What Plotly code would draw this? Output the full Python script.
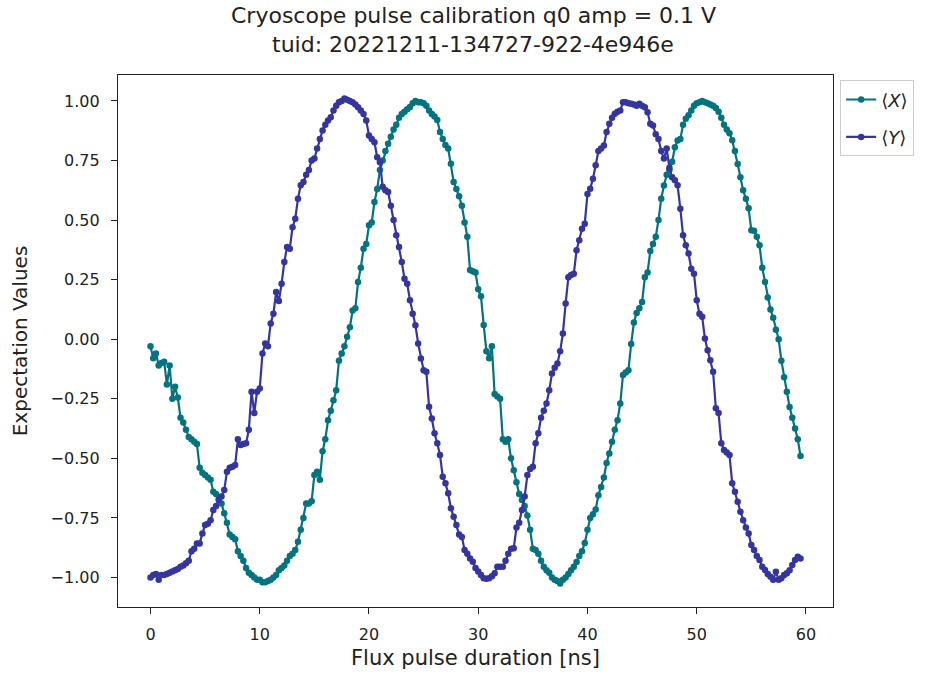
import plotly.graph_objects as go

# Cryoscope expectation values, one sample every 0.25 ns (rows of 2 ns)
expect_x = [
    -0.03, -0.08, -0.06, -0.11, -0.10, -0.095, -0.19, -0.11,
    -0.25, -0.20, -0.245, -0.33, -0.35, -0.38, -0.41, -0.42,
    -0.43, -0.44, -0.54, -0.56, -0.57, -0.58, -0.59, -0.64,
    -0.65, -0.67, -0.69, -0.73, -0.77, -0.82, -0.83, -0.84,
    -0.89, -0.91, -0.93, -0.96, -0.98, -0.99, -1.00, -1.01,
    -1.01, -1.02, -1.02, -1.015, -1.01, -1.00, -0.99, -0.97,
    -0.96, -0.95, -0.93, -0.91, -0.90, -0.885, -0.85, -0.80,
    -0.75, -0.69, -0.69, -0.68, -0.57, -0.556, -0.59, -0.47,
    -0.42, -0.34, -0.30, -0.256, -0.214, -0.09, -0.06, -0.03,
    0.01, 0.05, 0.12, 0.13, 0.24, 0.30, 0.38, 0.40,
    0.478, 0.49, 0.576, 0.63, 0.71, 0.75, 0.79, 0.82,
    0.85, 0.88, 0.90, 0.93, 0.945, 0.955, 0.965, 0.975,
    0.99, 1.0, 0.995, 0.995, 0.99, 0.98, 0.96, 0.945,
    0.935, 0.92, 0.87, 0.84, 0.815, 0.80, 0.737, 0.66,
    0.63, 0.60, 0.56, 0.49, 0.43, 0.29, 0.285, 0.28,
    0.21, 0.18, 0.06, -0.05, -0.08, -0.03, -0.23, -0.24,
    -0.25, -0.42, -0.43, -0.42, -0.50, -0.55, -0.60, -0.65,
    -0.675, -0.70, -0.74, -0.80, -0.88, -0.885, -0.90, -0.93,
    -0.955, -0.97, -0.98, -1.0, -1.01, -1.015, -1.025, -1.01,
    -1.0, -0.985, -0.97, -0.955, -0.935, -0.91, -0.89, -0.855,
    -0.80, -0.75, -0.735, -0.715, -0.655, -0.62, -0.58, -0.52,
    -0.48, -0.43, -0.38, -0.34, -0.27, -0.15, -0.14, -0.13,
    -0.02, 0.07, 0.11, 0.13, 0.156, 0.26, 0.28, 0.37,
    0.40, 0.43, 0.50, 0.59, 0.645, 0.69, 0.71, 0.745,
    0.806, 0.834, 0.84, 0.90, 0.925, 0.94, 0.96, 0.98,
    0.99, 0.995, 1.0, 0.995, 0.99, 0.985, 0.98, 0.97,
    0.955, 0.93, 0.90, 0.88, 0.865, 0.835, 0.79, 0.735,
    0.68, 0.625, 0.59, 0.55, 0.457, 0.455, 0.43, 0.394,
    0.30, 0.24, 0.175, 0.125, 0.09, 0.04, 0.0, -0.09,
    -0.16, -0.22, -0.285, -0.33, -0.375, -0.42, -0.49,
]

expect_y = [
    -1.00, -0.99, -0.985, -1.01, -0.99, -0.99, -0.985, -0.98,
    -0.975, -0.97, -0.965, -0.955, -0.95, -0.94, -0.93, -0.89,
    -0.88, -0.857, -0.857, -0.815, -0.78, -0.775, -0.76, -0.717,
    -0.70, -0.675, -0.66, -0.633, -0.556, -0.54, -0.535, -0.528,
    -0.42, -0.444, -0.44, -0.437, -0.38, -0.22, -0.31, -0.22,
    -0.207, -0.06, -0.018, -0.03, 0.066, 0.107, 0.198, 0.16,
    0.233, 0.324, 0.387, 0.38, 0.47, 0.506, 0.59, 0.646,
    0.66, 0.69, 0.71, 0.75, 0.758, 0.80, 0.84, 0.876,
    0.90, 0.918, 0.932, 0.96, 0.98, 0.995, 1.0, 1.01,
    1.005, 1.0, 0.995, 0.985, 0.974, 0.96, 0.945, 0.918,
    0.855, 0.84, 0.827, 0.764, 0.743, 0.64, 0.625, 0.618,
    0.56, 0.50, 0.436, 0.387, 0.324, 0.254, 0.233, 0.164,
    0.107, 0.059, -0.018, -0.081, -0.13, -0.137, -0.284, -0.333,
    -0.395, -0.437, -0.486, -0.577, -0.605, -0.647, -0.71, -0.745,
    -0.78, -0.82, -0.83, -0.885, -0.90, -0.92, -0.934, -0.96,
    -0.975, -0.99, -1.003, -1.005, -1.003, -0.995, -0.982, -0.955,
    -0.955, -0.955, -0.93, -0.90, -0.88, -0.877, -0.79, -0.77,
    -0.717, -0.66, -0.57, -0.545, -0.535, -0.437, -0.395, -0.33,
    -0.30, -0.27, -0.214, -0.144, -0.12, -0.102, -0.05, 0.024,
    0.15, 0.26, 0.27, 0.275, 0.373, 0.415, 0.464, 0.485,
    0.61, 0.632, 0.674, 0.73, 0.79, 0.80, 0.813, 0.87,
    0.904, 0.93, 0.946, 0.955, 0.96, 0.995, 0.995, 0.99,
    0.988, 0.985, 0.98, 0.988, 0.98, 0.974, 0.953, 0.904,
    0.897, 0.86, 0.84, 0.79, 0.758, 0.80, 0.72, 0.68,
    0.667, 0.646, 0.548, 0.436, 0.394, 0.36, 0.296, 0.275,
    0.164, 0.107, 0.094, 0.003, -0.046, -0.088, -0.137, -0.29,
    -0.31, -0.437, -0.465, -0.475, -0.486, -0.605, -0.64, -0.682,
    -0.724, -0.76, -0.79, -0.815, -0.864, -0.885, -0.91, -0.927,
    -0.955, -0.969, -0.985, -0.997, -1.01, -0.976, -1.01, -1.003,
    -0.99, -0.982, -0.97, -0.948, -0.927, -0.913, -0.92,
]

# flux pulse durations of the sweep (ns)
step_ns = 0.25
durations = [i * step_ns for i in range(len(expect_x))]

x_ticks = [0, 10, 20, 30, 40, 50, 60]
y_ticks = [-1.0, -0.75, -0.5, -0.25, 0.0, 0.25, 0.5, 0.75, 1.0]

title_lines = [
    "Cryoscope pulse calibration q0 amp = 0.1 V",
    "tuid: 20221211-134727-922-4e946e",
]

teal = "#02737f"
navy = "#3535a0"
font = "DejaVu Sans"
ink = "#222222"

fig = go.Figure()
fig.add_trace(go.Scatter(
    x=durations, y=expect_x, mode="lines+markers", name="⟨<i>X</i>⟩",
    legendgroup="x",
    line=dict(color=teal, width=2.2), marker=dict(color=teal, size=6.5),
))
fig.add_trace(go.Scatter(
    x=durations, y=expect_y, mode="lines+markers", name="⟨<i>Y</i>⟩",
    legendgroup="y",
    line=dict(color=navy, width=2.2), marker=dict(color=navy, size=6.5),
))

axis_common = dict(
    showline=True, mirror=True, linecolor=ink, linewidth=1.3,
    ticks="outside", ticklen=6, tickwidth=1.2, tickcolor=ink,
    showgrid=False, zeroline=False,
    tickfont=dict(family=font, size=16, color=ink),
)

# two-line heading above the axes
for text, ypos in zip(title_lines, [1.112, 1.057]):
    fig.add_annotation(
        text=text, xref="paper", yref="paper", x=0.497, y=ypos,
        xanchor="center", yanchor="middle", showarrow=False,
        font=dict(family=font, size=22, color=ink),
    )

fig.update_layout(
    width=947, height=680,
    margin=dict(l=118, r=114, t=75, b=73),
    paper_bgcolor="white", plot_bgcolor="white",
    font=dict(family=font, color=ink),
    xaxis=dict(
        range=[-2.975, 62.475], tickvals=x_ticks, ticklabelstandoff=7,
        title=dict(text="Flux pulse duration [ns]", font=dict(family=font, size=21), standoff=6),
        **axis_common,
    ),
    yaxis=dict(
        range=[-1.124, 1.109], tickvals=y_ticks, tickformat=".2f", ticklabelstandoff=8,
        title=dict(text="Expectation Values", font=dict(family=font, size=20), standoff=17),
        **axis_common,
    ),
    legend=dict(
        x=1.01, y=0.99, xanchor="left", yanchor="top",
        bordercolor="#cccccc", borderwidth=1, bgcolor="white",
        font=dict(family=font, size=18, color=ink),
        tracegroupgap=11,
    ),
)

fig.write_html("out.html")
